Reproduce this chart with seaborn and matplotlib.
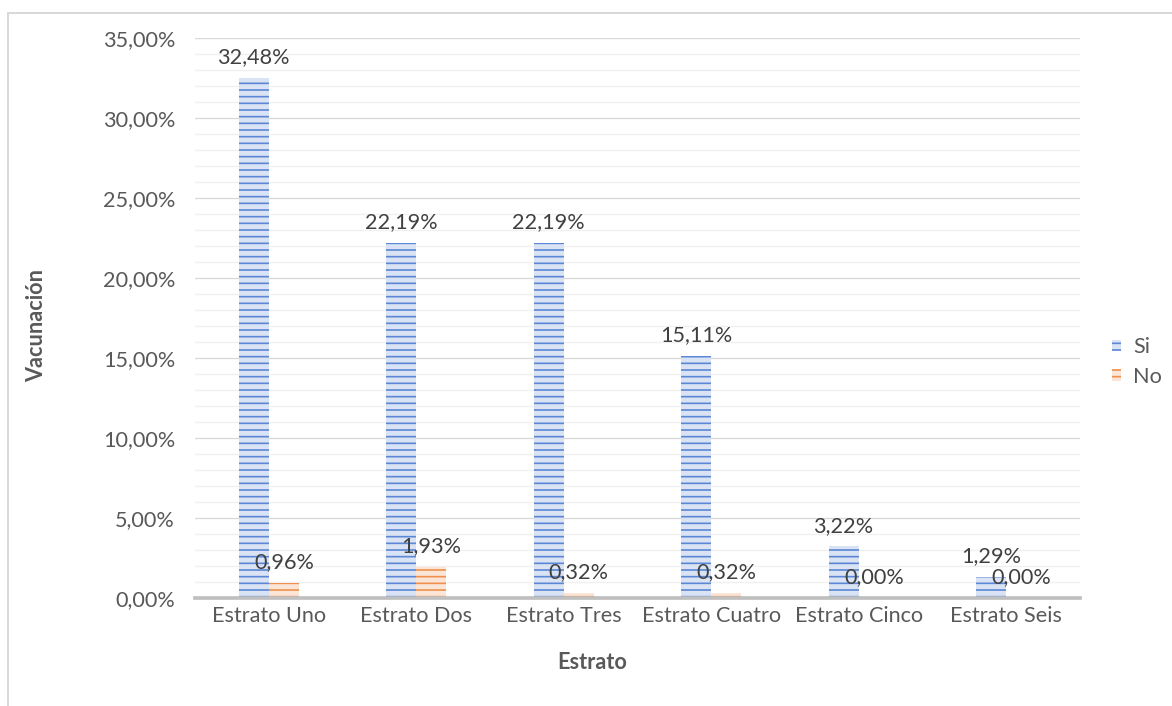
import matplotlib
matplotlib.use("Agg")
import matplotlib.pyplot as plt
from matplotlib.patches import Rectangle
from matplotlib.ticker import MultipleLocator, FuncFormatter
import seaborn as sns
import pandas as pd

# Vaccination share by socioeconomic stratum
estratos = ["Estrato Uno", "Estrato Dos", "Estrato Tres",
            "Estrato Cuatro", "Estrato Cinco", "Estrato Seis"]
si_vals = [32.48, 22.19, 22.19, 15.11, 3.22, 1.29]
no_vals = [0.96, 1.93, 0.32, 0.32, 0.00, 0.00]
respuestas = ["Si", "No"]

df = pd.DataFrame({
    "Estrato": estratos * 2,
    "Respuesta": ["Si"] * len(estratos) + ["No"] * len(estratos),
    "Valor": si_vals + no_vals,
})

sns.set_theme(style="white")
plt.rcParams["font.family"] = ["Lato", "DejaVu Sans"]
plt.rcParams["hatch.linewidth"] = 1.0

FS = 13
DPI = 120
fig = plt.figure(figsize=(1172 / DPI, 706 / DPI), dpi=DPI)
ax = fig.add_axes([195 / 1172, 1 - 598 / 706, 885 / 1172, 560 / 706])

fills = {"Si": "#dae3f3", "No": "#fbe5d6"}
lines = {"Si": "#5b87d6", "No": "#f0904e"}

sns.barplot(data=df, x="Estrato", y="Valor", hue="Respuesta",
            hue_order=respuestas, order=estratos, palette=fills,
            width=0.41, gap=0, ax=ax, legend=False, zorder=3)

for cont, resp in zip(ax.containers, respuestas):
    for bar in cont:
        bar.set_facecolor(fills[resp])
        bar.set_edgecolor(lines[resp])
        bar.set_linewidth(0)
        bar.set_hatch("---")
    for bar, val in zip(cont, cont.datavalues):
        ax.annotate(f"{val:.2f}%".replace(".", ","),
                    (bar.get_x() + bar.get_width() / 2, bar.get_height()),
                    xytext=(0, 12.5), textcoords="offset points",
                    ha="center", va="center", fontsize=FS,
                    color="#404040", zorder=5)

ax.set_xlim(-0.5, 5.5)
ax.set_ylim(0, 35)
ax.yaxis.set_major_locator(MultipleLocator(5))
ax.yaxis.set_minor_locator(MultipleLocator(1))
ax.yaxis.set_major_formatter(
    FuncFormatter(lambda v, _: f"{v:.2f}%".replace(".", ",")))
ax.grid(axis="y", which="major", color="#d9d9d9", linewidth=0.8, zorder=0)
ax.grid(axis="y", which="minor", color="#f0f0f0", linewidth=0.8, zorder=0)
ax.set_axisbelow(True)
ax.tick_params(axis="both", which="both", length=0, labelsize=FS,
               labelcolor="#595959")
ax.tick_params(axis="y", pad=12)
ax.tick_params(axis="x", pad=5)

for side in ("top", "right", "left"):
    ax.spines[side].set_visible(False)
ax.spines["bottom"].set_color("#bfbfbf")
ax.spines["bottom"].set_linewidth(2.2)
ax.spines["bottom"].set_zorder(4)

ax.set_xlabel("Estrato", fontsize=FS, fontweight="bold", color="#595959")
ax.set_ylabel("Vacunación", fontsize=FS, fontweight="bold", color="#595959")
ax.xaxis.set_label_coords((592 - 195) / 885, -(652 - 598) / 560)
ax.yaxis.set_label_coords(-(195 - 47) / 885, (598 - 326) / 560)

leg = ax.legend(ax.containers, respuestas, loc="center left",
                bbox_to_anchor=(1 + (1112 - 1080) / 885, (598 - 362) / 560),
                frameon=False, fontsize=FS, borderpad=0, borderaxespad=0,
                handlelength=0.42, handleheight=0.46,
                handletextpad=0.55, labelspacing=0.45)
for t in leg.get_texts():
    t.set_color("#595959")

# chart-area frame
fig.patches.append(Rectangle((8 / 1172, -0.05), 1.1, 1 - 13 / 706 + 0.05,
                             transform=fig.transFigure, fill=False,
                             edgecolor="#d9d9d9", linewidth=1.2))

fig.savefig("out.png", dpi=DPI)
